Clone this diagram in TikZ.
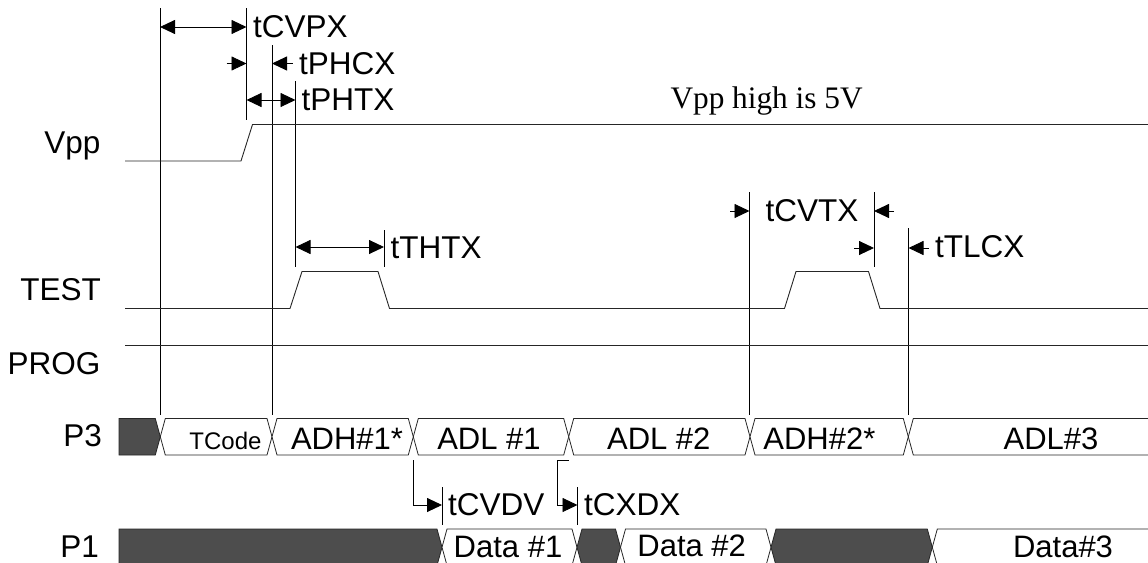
\documentclass[tikz,border=0pt]{standalone}
\usepackage{fontspec}
\setmainfont{Liberation Sans}
\newfontfamily\serifface{Liberation Serif}
\usetikzlibrary{arrows.meta}
\definecolor{darkbus}{HTML}{4D4D4D}
\tikzset{
  x=1pt,y=-1pt,
  wire/.style={line width=0.9pt,black!85},
  tick/.style={line width=0.9pt,black},
  dim/.style={line width=0.9pt,black,{Triangle[length=15pt,width=14pt]}-{Triangle[length=15pt,width=14pt]}},
  dimr/.style={line width=0.9pt,black,-{Triangle[length=15pt,width=14pt]}},
  lab/.style={font=\fontsize{31.5}{32}\selectfont,inner sep=0pt,anchor=base west},
  sig/.style={font=\fontsize{31.5}{32}\selectfont,inner sep=0pt,anchor=base east},
  bus/.style={font=\fontsize{31}{32}\selectfont,inner sep=0pt,anchor=base},
  buscell/.style={line width=0.8pt,black!85,fill=white},
  busdark/.style={line width=0.8pt,black!85,fill=darkbus},
}
\newcommand{\cellbox}[5]{% style, left crossing, right crossing, top, bottom
  \draw[#1] (#2+5,#4) -- (#3-5,#4) -- (#3,#4/2+#5/2) -- (#3-5,#5) -- (#2+5,#5) -- (#2,#4/2+#5/2) -- cycle;}
\begin{document}
\begin{tikzpicture}
\useasboundingbox (0,0) rectangle (1148,562);
\clip (0,0) rectangle (1148,562);
% timing marks
\coordinate (a1) at (160,8);     \coordinate (a2) at (160,415);
\coordinate (b1) at (246.5,8);   \coordinate (b2) at (246.5,120);
\coordinate (c1) at (272,45);    \coordinate (c2) at (272,415);
\coordinate (d1) at (295.5,81);  \coordinate (d2) at (295.5,267);
\coordinate (e1) at (384,230);   \coordinate (e2) at (384,267);
\coordinate (f1) at (749.5,192); \coordinate (f2) at (749.5,415);
\coordinate (g1) at (874,192);   \coordinate (g2) at (874,267);
\coordinate (h1) at (908.5,228); \coordinate (h2) at (908.5,415);
\coordinate (i1) at (442,487);   \coordinate (i2) at (442,525);
\coordinate (j1) at (577.5,487); \coordinate (j2) at (577.5,525);
\foreach \m in {a,b,c,d,e,f,g,h,i,j} \draw[tick] (\m1) -- (\m2);
% waveforms
\draw[wire] (125,161) -- (241,161) -- (252.5,124.5) -- (1148,124.5);
\draw[wire] (125,308.5) -- (290,308.5) -- (302,271.5) -- (378,271.5) -- (389.5,308.5)
  -- (784.5,308.5) -- (796,271.5) -- (868.5,271.5) -- (880,308.5) -- (1148,308.5);
\draw[wire] (125,345) -- (1148,345);
% P3 bus
\def\ptop{418.5}\def\pbot{455}
\draw[busdark] (119,\ptop) -- (155.3,\ptop) -- (160.3,436.75) -- (155.3,\pbot) -- (119,\pbot) -- cycle;
\cellbox{buscell}{160.3}{272}{\ptop}{\pbot}
\cellbox{buscell}{272}{413.3}{\ptop}{\pbot}
\cellbox{buscell}{413.3}{568.7}{\ptop}{\pbot}
\cellbox{buscell}{568.7}{750}{\ptop}{\pbot}
\cellbox{buscell}{750}{908.3}{\ptop}{\pbot}
\draw[buscell] (1150,\ptop) -- (913.3,\ptop) -- (908.3,436.75) -- (913.3,\pbot) -- (1150,\pbot);
\node[bus,font=\fontsize{24}{24}\selectfont] (tcode) at (225.5,449) {TCode};
\node[bus] (adh1) at (347,449.3) {ADH\#1*};
\node[bus] (adl1) at (489,449.3) {ADL \#1};
\node[bus] (adl2) at (658.8,449.3) {ADL \#2};
\node[bus] (adh2) at (819.4,449.3) {ADH\#2*};
\node[bus] (adl3) at (1051,449.3) {ADL\#3};
% P1 bus
\def\qtop{529}\def\qbot{565.5}
\draw[busdark] (119,\qtop) -- (437,\qtop) -- (442,547.25) -- (437,\qbot) -- (119,\qbot) -- cycle;
\cellbox{buscell}{442}{577}{\qtop}{\qbot}
\cellbox{busdark}{577}{620.5}{\qtop}{\qbot}
\cellbox{buscell}{620.5}{771}{\qtop}{\qbot}
\cellbox{busdark}{771}{932.3}{\qtop}{\qbot}
\draw[buscell] (1150,\qtop) -- (937.3,\qtop) -- (932.3,547.25) -- (937.3,\qbot) -- (1150,\qbot);
\node[bus] (d1t) at (508,557) {Data \#1};
\node[bus] (d2t) at (691.7,556) {Data \#2};
\node[bus] (d3t) at (1063,557.7) {Data\#3};
% signal names
\node[sig] (vpp) at (100.5,153) {Vpp};
\node[sig] (test) at (101,300) {TEST};
\node[sig] (prog) at (100.5,374) {PROG};
\node[sig] (p3) at (102,446.7) {P3};
\node[sig] (p1) at (99,557) {P1};
% time labels
\node[lab] (tcvpx) at (253,37.3) {tCVPX};
\node[lab] (tphcx) at (299,74) {tPHCX};
\node[lab] (tphtx) at (301.5,110.7) {tPHTX};
\node[lab] (tthtx) at (390.5,258.3) {tTHTX};
\node[lab] (tcvtx) at (765.5,221.7) {tCVTX};
\node[lab] (ttlcx) at (935,257.7) {tTLCX};
\node[lab] (tcvdv) at (448,515) {tCVDV};
\node[lab] (tcxdx) at (584,515) {tCXDX};
\node[inner sep=0pt,anchor=base west,font=\serifface\fontsize{31.3}{32}\selectfont] (vhigh) at (670.3,108) {Vpp high is 5V};
% dimension arrows
\coordinate (s1) at (226.5,63.5); \coordinate (s2) at (292.5,63.5);
\coordinate (s3) at (730,211);    \coordinate (s4) at (894,211);
\coordinate (s5) at (854,248);    \coordinate (s6) at (929,248);
\draw[dim] (160,27) -- (246.5,27);
\draw[dimr] (s1) -- (246.5,63.5);
\draw[dimr] (s2) -- (272,63.5);
\draw[dim] (246.5,100) -- (295.5,100);
\draw[dim] (295.5,247) -- (384,247);
\draw[dimr] (s3) -- (749.5,211);
\draw[dimr] (s4) -- (874,211);
\draw[dimr] (s5) -- (874,248);
\draw[dimr] (s6) -- (908.5,248);
\coordinate (u1) at (413.3,460); \coordinate (u2) at (568.7,460);
\draw[dimr] (u1) -- (413.3,505) -- (442,505);
\draw[dimr] (u2) -- (557.3,460) -- (557.3,505) -- (577.5,505);
\end{tikzpicture}
\end{document}
